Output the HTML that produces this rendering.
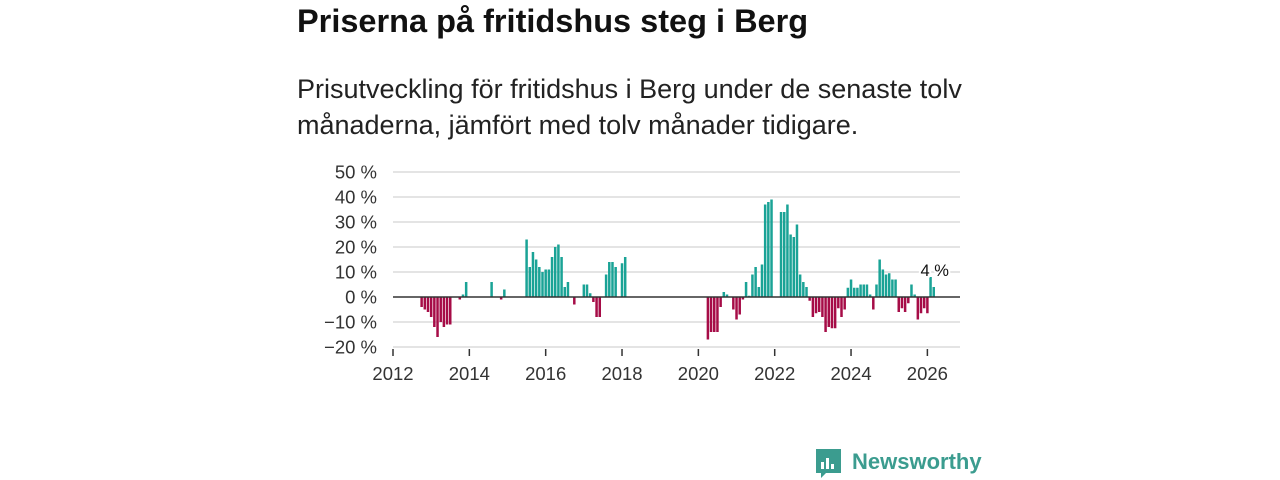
<!DOCTYPE html>
<html><head><meta charset="utf-8">
<style>
body{margin:0;background:#fff;width:1280px;height:480px;overflow:hidden;font-family:"Liberation Sans",sans-serif;}
#title{position:absolute;left:297px;top:3px;font-size:32.5px;font-weight:bold;color:#111;margin:0;letter-spacing:0px}
#sub{position:absolute;left:297px;top:71px;font-size:27px;line-height:36px;color:#222;white-space:nowrap}
svg{position:absolute;left:0;top:0}
</style></head><body>
<h1 id="title">Priserna på fritidshus steg i Berg</h1>
<div id="sub">Prisutveckling för fritidshus i Berg under de senaste tolv<br>månaderna, jämfört med tolv månader tidigare.</div>
<svg id="chart" width="1280" height="480"></svg>
<script>
const yTicks=[50,40,30,20,10,0,-10,-20];
const yTickLabels=["50 %","40 %","30 %","20 %","10 %","0 %","−10 %","−20 %"];
const xTickYears=[2012,2014,2016,2018,2020,2022,2024,2026];
// monthly values from Jan 2012 (index 0), null = no data
const values=[
null,null,null,null,null,null,null,null,null,-4,-5,-6,
-8,-12,-16,-10,-12,-11,-11,null,null,-1,1,6,
null,null,null,null,null,null,null,6,null,null,-1,3,
null,null,null,null,null,null,23,12,18,15,12,10,
11,11,16,20,21,16,4,6,null,-3,null,null,
5,5,1.5,-2,-8,-8,null,9,14,14,12,null,
13.5,16,null,null,null,null,null,null,null,null,null,null,
null,null,null,null,null,null,null,null,null,null,null,null,
null,null,null,-17,-14,-14,-14,-4,2,1,null,-5,
-9,-7,-1,6,0.5,9,12,4,13,37,38,39,
null,null,34,34,37,25,24,29,9,6,4,-1.5,
-8,-6.5,-6,-8,-14,-12,-12.5,-12.5,-4.5,-8,-5,3.7,
7,3.7,3.7,5,5,5,1,-5,5,15,11,9,
9.5,7,7,-6,-4.5,-6,-2.5,5,1,-9,-6.5,-4.5,
-6.5,8,4
];
const lastLabel="4 %";
const svg=document.getElementById('chart');
const NS="http://www.w3.org/2000/svg";
const x0=393, pxPerYear=38.17, y0=297, pxPerPct=2.5;
const xScale=m=>x0+m*pxPerYear/12;
const yScale=v=>y0-v*pxPerPct;
function mk(t,a){const e=document.createElementNS(NS,t);for(const k in a)e.setAttribute(k,a[k]);svg.appendChild(e);return e;}
yTicks.forEach((t,i)=>{
  if(t!==0){const g=mk('line',{x1:393,x2:960,y1:yScale(t),y2:yScale(t),stroke:'#dcdcdc','stroke-width':1.5});
  
  }
  const l=mk('text',{x:377,y:yScale(t)+6.5,'text-anchor':'end','font-size':18.5,fill:'#333','font-family':'Liberation Sans, sans-serif'});
  l.textContent=yTickLabels[i];
  
  
});
values.forEach((v,m)=>{
  if(v===null)return;
  const x=xScale(m);
  const r=mk('rect',{x:x-1.25,width:2.5,y:Math.min(yScale(v),y0),height:Math.abs(yScale(v)-y0),fill:v>=0?'#1aa396':'#a60c47'});
  
  
});
const z=mk('line',{x1:393,x2:960,y1:y0,y2:y0,stroke:'#333','stroke-width':1.5});


xTickYears.forEach(yr=>{
  const x=xScale((yr-2012)*12);
  const t=mk('line',{x1:x,x2:x,y1:349,y2:356,stroke:'#333','stroke-width':1.5});
  
  
  const l=mk('text',{x:x,y:380,'text-anchor':'middle','font-size':18.5,fill:'#333','font-family':'Liberation Sans, sans-serif'});
  l.textContent=yr;
  
  
});
const lastIdx=values.length-1;
const ll=mk('text',{x:xScale(lastIdx)+1,y:276,'text-anchor':'middle','font-size':16.5,fill:'#111','font-family':'Liberation Sans, sans-serif',stroke:'#fff','stroke-width':4,'paint-order':'stroke'});
ll.textContent=lastLabel;


// logo
const g=mk('g',{});


const ic=document.createElementNS(NS,'path');
ic.setAttribute('d','M816 449 h25 v24 h-15 l-5 5 v-5 h-5 z');
ic.setAttribute('fill','#3b9c8f');
g.appendChild(ic);
[[821,462,3,7],[826,458,3,11],[831,464,3,5]].forEach(b=>{const r=document.createElementNS(NS,'rect');r.setAttribute('x',b[0]);r.setAttribute('y',b[1]);r.setAttribute('width',b[2]);r.setAttribute('height',b[3]);r.setAttribute('fill','#fff');g.appendChild(r);});
const tx=document.createElementNS(NS,'text');
tx.setAttribute('x',852);tx.setAttribute('y',469);tx.setAttribute('font-size',22);tx.setAttribute('font-weight','bold');tx.setAttribute('fill','#3b9c8f');tx.setAttribute('font-family','Liberation Sans, sans-serif');
tx.textContent='Newsworthy';
g.appendChild(tx);
</script>
</body></html>
